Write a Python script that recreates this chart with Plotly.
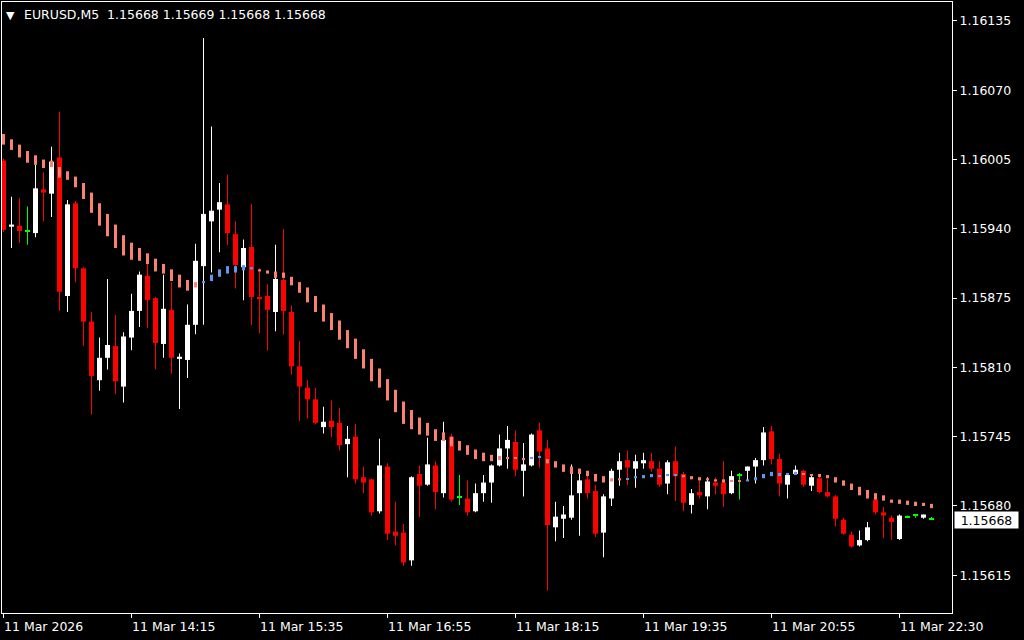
import plotly.graph_objects as go

# ---------------- data ----------------
symbol = "EURUSD,M5"
quote = ["1.15668", "1.15669", "1.15668", "1.15668"]

opens = [1.16004, 1.15942, 1.15943, 1.15938, 1.15936, 1.15977, 1.15973, 1.16007, 1.15877, 1.15964,
         1.15903, 1.15853, 1.15798, 1.15819, 1.15830, 1.15792, 1.15838, 1.15863, 1.15896, 1.15875,
         1.15832, 1.15864, 1.15818, 1.15817, 1.15850, 1.15905, 1.15947, 1.15958, 1.15963, 1.15935,
         1.15904, 1.15923, 1.15876, 1.15877, 1.15862, 1.15892, 1.15862, 1.15811, 1.15791, 1.15780,
         1.15754, 1.15760, 1.15758, 1.15738, 1.15745, 1.15707, 1.15705, 1.15675, 1.15717, 1.15656,
         1.15655, 1.15629, 1.15710, 1.15700, 1.15718, 1.15692, 1.15745, 1.15688, 1.15687, 1.15675,
         1.15692, 1.15702, 1.15718, 1.15734, 1.15740, 1.15713, 1.15718, 1.15751, 1.15734, 1.15660,
         1.15668, 1.15669, 1.15692, 1.15705, 1.15694, 1.15655, 1.15687, 1.15714, 1.15723, 1.15715,
         1.15720, 1.15722, 1.15715, 1.15701, 1.15722, 1.15710, 1.15681, 1.15693, 1.15689, 1.15702,
         1.15702, 1.15692, 1.15709, 1.15713, 1.15717, 1.15723, 1.15750, 1.15724, 1.15700, 1.15710,
         1.15713, 1.15699, 1.15706, 1.15693, 1.15689, 1.15667, 1.15653, 1.15643, 1.15648, 1.15686,
         1.15674, 1.15669, 1.15649, 1.15670, 1.15672, 1.15669, 1.15668]

highs = [1.16006, 1.15970, 1.15969, 1.15961, 1.16000, 1.15993, 1.16017, 1.16050, 1.15967, 1.15966,
         1.15904, 1.15862, 1.15838, 1.15893, 1.15859, 1.15843, 1.15879, 1.15900, 1.15907, 1.15876,
         1.15897, 1.15890, 1.15823, 1.15869, 1.15926, 1.16119, 1.16036, 1.15983, 1.15991, 1.15947,
         1.15930, 1.15963, 1.15903, 1.15888, 1.15925, 1.15940, 1.15868, 1.15835, 1.15798, 1.15791,
         1.15773, 1.15779, 1.15772, 1.15755, 1.15757, 1.15717, 1.15706, 1.15743, 1.15720, 1.15684,
         1.15663, 1.15708, 1.15718, 1.15744, 1.15722, 1.15759, 1.15748, 1.15709, 1.15704, 1.15701,
         1.15709, 1.15719, 1.15747, 1.15755, 1.15751, 1.15739, 1.15748, 1.15758, 1.15742, 1.15684,
         1.15680, 1.15719, 1.15715, 1.15713, 1.15700, 1.15691, 1.15715, 1.15730, 1.15732, 1.15728,
         1.15730, 1.15730, 1.15722, 1.15723, 1.15736, 1.15712, 1.15696, 1.15707, 1.15707, 1.15707,
         1.15722, 1.15713, 1.15711, 1.15717, 1.15725, 1.15754, 1.15755, 1.15729, 1.15711, 1.15718,
         1.15714, 1.15710, 1.15708, 1.15705, 1.15690, 1.15669, 1.15656, 1.15657, 1.15665, 1.15687,
         1.15679, 1.15671, 1.15672, 1.15671, 1.15672, 1.15672, 1.15669]

lows = [1.15937, 1.15922, 1.15927, 1.15925, 1.15932, 1.15947, 1.15951, 1.15863, 1.15862, 1.15890,
        1.15830, 1.15766, 1.15788, 1.15808, 1.15785, 1.15777, 1.15826, 1.15848, 1.15847, 1.15808,
        1.15819, 1.15804, 1.15771, 1.15800, 1.15841, 1.15850, 1.15899, 1.15918, 1.15925, 1.15884,
        1.15873, 1.15850, 1.15842, 1.15826, 1.15844, 1.15841, 1.15803, 1.15760, 1.15762, 1.15757,
        1.15748, 1.15745, 1.15732, 1.15707, 1.15701, 1.15692, 1.15671, 1.15673, 1.15648, 1.15643,
        1.15624, 1.15624, 1.15670, 1.15699, 1.15677, 1.15688, 1.15684, 1.15681, 1.15671, 1.15674,
        1.15684, 1.15683, 1.15717, 1.15715, 1.15708, 1.15689, 1.15717, 1.15716, 1.15601, 1.15647,
        1.15650, 1.15667, 1.15652, 1.15687, 1.15651, 1.15632, 1.15680, 1.15699, 1.15700, 1.15697,
        1.15715, 1.15712, 1.15698, 1.15691, 1.15685, 1.15675, 1.15673, 1.15687, 1.15677, 1.15691,
        1.15679, 1.15691, 1.15686, 1.15704, 1.15701, 1.15718, 1.15719, 1.15689, 1.15687, 1.15709,
        1.15698, 1.15694, 1.15692, 1.15688, 1.15661, 1.15653, 1.15641, 1.15642, 1.15647, 1.15672,
        1.15650, 1.15648, 1.15648, 1.15669, 1.15669, 1.15668, 1.15668]

closes = [1.15939, 1.15944, 1.15938, 1.15938, 1.15978, 1.15974, 1.16003, 1.15881, 1.15963, 1.15903,
          1.15853, 1.15802, 1.15819, 1.15831, 1.15797, 1.15839, 1.15863, 1.15897, 1.15873, 1.15833,
          1.15865, 1.15819, 1.15820, 1.15850, 1.15910, 1.15954, 1.15957, 1.15965, 1.15936, 1.15906,
          1.15922, 1.15876, 1.15874, 1.15864, 1.15893, 1.15863, 1.15811, 1.15792, 1.15780, 1.15758,
          1.15759, 1.15754, 1.15737, 1.15743, 1.15705, 1.15702, 1.15674, 1.15718, 1.15654, 1.15652,
          1.15627, 1.15707, 1.15699, 1.15719, 1.15693, 1.15742, 1.15686, 1.15688, 1.15674, 1.15692,
          1.15702, 1.15718, 1.15734, 1.15742, 1.15714, 1.15719, 1.15747, 1.15731, 1.15662, 1.15670,
          1.15672, 1.15690, 1.15704, 1.15692, 1.15654, 1.15689, 1.15713, 1.15722, 1.15716, 1.15722,
          1.15723, 1.15715, 1.15700, 1.15721, 1.15708, 1.15683, 1.15692, 1.15690, 1.15703, 1.15699,
          1.15691, 1.15708, 1.15709, 1.15717, 1.15723, 1.15749, 1.15724, 1.15701, 1.15709, 1.15714,
          1.15700, 1.15707, 1.15693, 1.15689, 1.15668, 1.15654, 1.15642, 1.15648, 1.15660, 1.15674,
          1.15671, 1.15665, 1.15671, 1.15670, 1.15672, 1.15672, 1.15668]

# moving-average dash extents (upper / lower price of each short segment)
ma_hi = [1.16029, 1.16024, 1.16019, 1.16013, 1.16009, 1.16005, 1.16004, 1.15998, 1.15994, 1.15989,
         1.15983, 1.15974, 1.15964, 1.15954, 1.15944, 1.15934, 1.15927, 1.15922, 1.15917, 1.15912,
         1.15907, 1.15902, 1.15897, 1.15892, 1.15890, 1.15891, 1.15897, 1.15902, 1.15905, 1.15905,
         1.15906, 1.15904, 1.15902, 1.15901, 1.15900, 1.15899, 1.15895, 1.15890, 1.15885, 1.15877,
         1.15869, 1.15861, 1.15854, 1.15845, 1.15837, 1.15827, 1.15818, 1.15809, 1.15799, 1.15789,
         1.15778, 1.15770, 1.15763, 1.15758, 1.15752, 1.15749, 1.15745, 1.15741, 1.15737, 1.15733,
         1.15730, 1.15728, 1.15727, 1.15726, 1.15726, 1.15725, 1.15726, 1.15727, 1.15724, 1.15722,
         1.15719, 1.15717, 1.15715, 1.15713, 1.15710, 1.15708, 1.15706, 1.15706, 1.15706, 1.15708,
         1.15709, 1.15710, 1.15709, 1.15710, 1.15710, 1.15709, 1.15708, 1.15707, 1.15706, 1.15705,
         1.15705, 1.15704, 1.15704, 1.15705, 1.15707, 1.15710, 1.15712, 1.15711, 1.15711, 1.15712,
         1.15711, 1.15710, 1.15710, 1.15709, 1.15707, 1.15704, 1.15701, 1.15698, 1.15695, 1.15692,
         1.15690, 1.15686, 1.15686, 1.15685, 1.15684, 1.15683, 1.15682]

ma_lo = [1.16019, 1.16014, 1.16007, 1.16002, 1.16000, 1.15997, 1.15998, 1.15988, 1.15986, 1.15979,
         1.15968, 1.15955, 1.15943, 1.15933, 1.15922, 1.15915, 1.15911, 1.15910, 1.15907, 1.15900,
         1.15898, 1.15891, 1.15885, 1.15882, 1.15885, 1.15889, 1.15891, 1.15895, 1.15898, 1.15899,
         1.15901, 1.15902, 1.15900, 1.15898, 1.15894, 1.15894, 1.15887, 1.15880, 1.15871, 1.15862,
         1.15853, 1.15845, 1.15836, 1.15828, 1.15818, 1.15809, 1.15797, 1.15791, 1.15779, 1.15768,
         1.15757, 1.15752, 1.15747, 1.15746, 1.15741, 1.15741, 1.15736, 1.15732, 1.15728, 1.15724,
         1.15722, 1.15722, 1.15723, 1.15725, 1.15724, 1.15723, 1.15724, 1.15725, 1.15720, 1.15716,
         1.15712, 1.15710, 1.15710, 1.15708, 1.15703, 1.15702, 1.15703, 1.15704, 1.15705, 1.15706,
         1.15706, 1.15707, 1.15707, 1.15708, 1.15708, 1.15707, 1.15705, 1.15704, 1.15704, 1.15703,
         1.15702, 1.15703, 1.15703, 1.15703, 1.15704, 1.15706, 1.15708, 1.15708, 1.15709, 1.15709,
         1.15709, 1.15709, 1.15707, 1.15706, 1.15702, 1.15699, 1.15695, 1.15690, 1.15687, 1.15686,
         1.15685, 1.15683, 1.15682, 1.15681, 1.15680, 1.15680, 1.15678]

# trend state of the average per bar: u = rising (blue), d = falling (salmon)
ma_trend = ("ddddddddddddddddddddddddd" "uuuuuuu"
            "dddddddddddddddddddddddddddddddddd" "uu"
            "dddddddddd" "uuuuuuu" "dddddddd" "uuuuuuu" "ddddddddddddddddd")

tick_bars = [0, 16, 32, 48, 64, 80, 96, 112]
tick_times = ["11 Mar 2026", "11 Mar 14:15", "11 Mar 15:35", "11 Mar 16:55",
              "11 Mar 18:15", "11 Mar 19:35", "11 Mar 20:55", "11 Mar 22:30"]
price_ticks = [1.16135, 1.16070, 1.16005, 1.15940, 1.15875, 1.15810, 1.15745, 1.15680, 1.15615]
last_price = 1.15668

# ---------------- styling ----------------
UP = "#ffffff"
DOWN = "#ff0000"
DOJI = "#00ff00"
MA_DOWN = "#fa8072"
MA_UP = "#6495ed"
FONT = "DejaVu Sans"
FS = 12.5
MIN_H = 0.00001

n = len(opens)
xs = list(range(n))


def candle_color(o, c):
    if c > o:
        return UP
    if c < o:
        return DOWN
    return DOJI


cols = [candle_color(o, c) for o, c in zip(opens, closes)]

fig = go.Figure()

# wicks (1 px wide bars from low to high)
fig.add_trace(go.Bar(x=xs, y=[h - l for h, l in zip(highs, lows)], base=lows, width=0.125,
                     marker=dict(color=cols, line=dict(width=0)),
                     hoverinfo="skip", showlegend=False))

# bodies
body_base, body_h = [], []
for o, c in zip(opens, closes):
    h = abs(c - o)
    if h < MIN_H:
        body_base.append(min(o, c) - (MIN_H - h) / 2)
        body_h.append(MIN_H)
    else:
        body_base.append(min(o, c))
        body_h.append(h)
fig.add_trace(go.Bar(x=xs, y=body_h, base=body_base, width=0.625,
                     marker=dict(color=cols, line=dict(width=0)),
                     hoverinfo="skip", showlegend=False))

# moving average dashes
ma_h = [max(h - l, MIN_H) for h, l in zip(ma_hi, ma_lo)]
ma_cols = [MA_UP if t == "u" else MA_DOWN for t in ma_trend]
fig.add_trace(go.Bar(x=xs, y=ma_h, base=ma_lo, width=0.375,
                     marker=dict(color=ma_cols, line=dict(width=0)),
                     hoverinfo="skip", showlegend=False))

fig.update_layout(
    width=1024, height=640,
    margin=dict(l=2, r=72, t=2, b=27),
    paper_bgcolor="black", plot_bgcolor="black",
    barmode="overlay", showlegend=False,
    font=dict(family=FONT, size=FS, color="white"),
)
fig.update_xaxes(
    range=[-0.1875, 118.5625], showgrid=False, zeroline=False,
    showline=True, mirror=True, linecolor="white", linewidth=1,
    tickmode="array", tickvals=tick_bars, ticks="outside", ticklen=4,
    tickcolor="white", showticklabels=False,
)
fig.update_yaxes(
    range=[1.155796, 1.161528], side="right", showgrid=False, zeroline=False,
    showline=True, mirror=True, linecolor="white", linewidth=1,
    tickmode="array", tickvals=price_ticks,
    ticktext=[f"{p:.5f}" for p in price_ticks],
    ticks="outside", ticklen=4, tickcolor="white",
    tickfont=dict(family=FONT, size=FS, color="white"),
)

# time labels, left-aligned at their tick
for b, t in zip(tick_bars, tick_times):
    fig.add_annotation(x=b, y=0, xref="x", yref="paper", text=t, showarrow=False,
                       xanchor="left", yanchor="top", yshift=-4, xshift=-2,
                       font=dict(family=FONT, size=FS, color="white"))

# header
fig.add_annotation(x=0, y=1, xref="paper", yref="paper", text="\u25bc", showarrow=False,
                   xanchor="left", yanchor="top", xshift=2, yshift=-5,
                   font=dict(family=FONT, size=11, color="white"))
fig.add_annotation(x=0, y=1, xref="paper", yref="paper",
                   text=symbol + "\u00a0\u00a0" + " ".join(quote), showarrow=False,
                   xanchor="left", yanchor="top", xshift=20, yshift=-3,
                   font=dict(family=FONT, size=FS, color="white"))

# current price box
fig.add_annotation(x=1, y=last_price, xref="paper", yref="y", text=f"{last_price:.5f}",
                   showarrow=False, xanchor="left", yanchor="middle", xshift=2, yshift=-1,
                   bgcolor="white", borderpad=1, width=61, height=14,
                   font=dict(family=FONT, size=FS, color="black"))

fig.write_html("out.html", config={"displayModeBar": False},
               post_script="document.body.style.margin='0';document.body.style.padding='0';")
